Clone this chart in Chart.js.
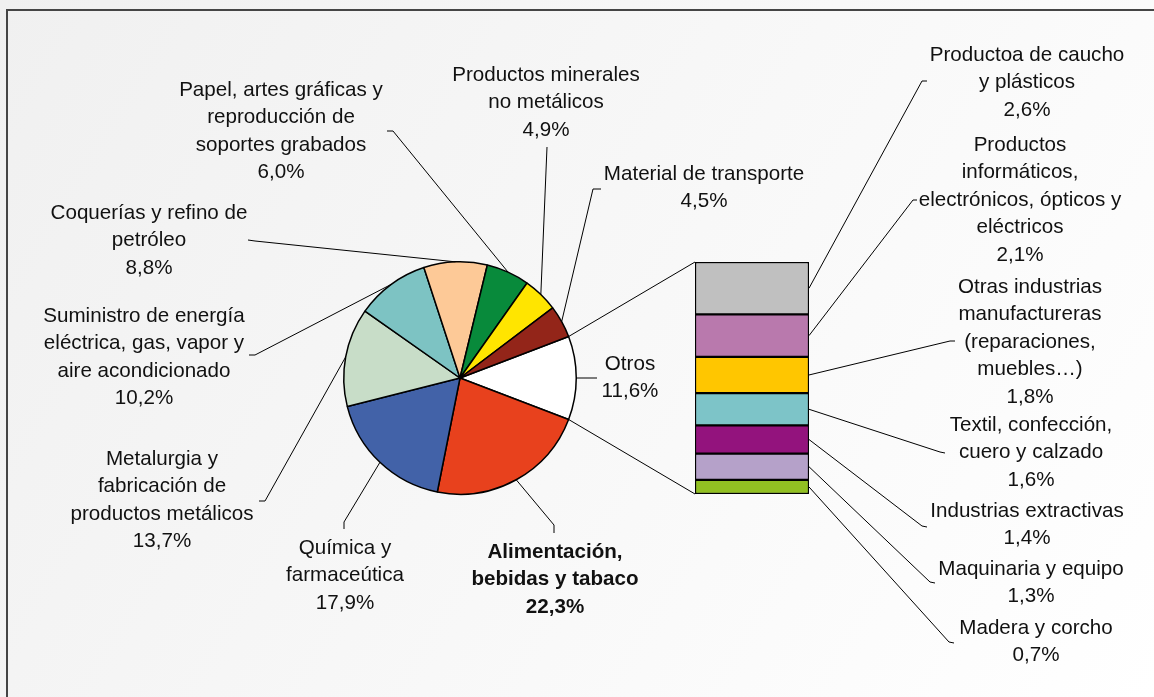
<!DOCTYPE html>
<html>
<head>
<meta charset="utf-8">
<script src="https://cdn.jsdelivr.net/npm/chart.js@4.4.0/dist/chart.umd.min.js"></script>
<style>
  body { margin: 0; background: #f4f4f4; }
  .wrap { position: relative; width: 1154px; height: 697px; }
  .wrap canvas { position: absolute; left: 0; top: 0; }
</style>
</head>
<body>
<div class="wrap">
  <canvas id="pieChart" width="1154" height="697"></canvas>
  <canvas id="barChart" width="1154" height="697"></canvas>
</div>
<script>
// Data (% of total)
const pieLabels = [
  ['Otros'],
  ['Alimentación,', 'bebidas y tabaco'],
  ['Química y', 'farmaceútica'],
  ['Metalurgia y', 'fabricación de', 'productos metálicos'],
  ['Suministro de energía', 'eléctrica, gas, vapor y', 'aire acondicionado'],
  ['Coquerías y refino de', 'petróleo'],
  ['Papel, artes gráficas y', 'reproducción de', 'soportes grabados'],
  ['Productos minerales', 'no metálicos'],
  ['Material de transporte']
];
const pieValues = [11.6, 22.3, 17.9, 13.7, 10.2, 8.8, 6.0, 4.9, 4.5];

const barLabels = [
  ['Productoa de caucho', 'y plásticos'],
  ['Productos', 'informáticos,', 'electrónicos, ópticos y', 'eléctricos'],
  ['Otras industrias', 'manufactureras', '(reparaciones,', 'muebles…)'],
  ['Textil, confección,', 'cuero y calzado'],
  ['Industrias extractivas'],
  ['Maquinaria y equipo'],
  ['Madera y corcho']
];
const barValues = [2.6, 2.1, 1.8, 1.6, 1.4, 1.3, 0.7];

// Styles
const pieColors = ['#ffffff', '#e8411d', '#4262a8', '#c8ddc8', '#7dc3c3', '#fdc997', '#088a3b', '#ffe500', '#932519'];
const barColors = ['#c0c0c0', '#b979ad', '#ffc600', '#7dc4c8', '#93137d', '#b5a1c9', '#92c022'];

// Label placement: x, y = centre of first text line, anchor/elbow = leader line end
const pieLabelLayout = [
  { x: 630, y: 364, anchor: [597, 378] },
  { x: 555, y: 552, anchor: [554, 533], elbow: [554, 525], bold: true },
  { x: 345, y: 548, anchor: [344, 529], elbow: [344, 522] },
  { x: 162, y: 459, anchor: [259, 501], elbow: [265, 501] },
  { x: 144, y: 316, anchor: [249, 355], elbow: [255, 355] },
  { x: 149, y: 213, anchor: [248, 240], elbow: [255, 241] },
  { x: 281, y: 90, anchor: [387, 131], elbow: [393, 131] },
  { x: 546, y: 75, anchor: [547, 147] },
  { x: 704, y: 174, anchor: [601, 189], elbow: [593, 189] }
];
const barLabelLayout = [
  { x: 1027, y: 55, anchor: [927, 81], elbow: [922, 81] },
  { x: 1020, y: 145, anchor: [917, 200], elbow: [913, 200] },
  { x: 1030, y: 287, anchor: [955, 341], elbow: [950, 341] },
  { x: 1031, y: 425, anchor: [945, 453], elbow: [940, 452] },
  { x: 1027, y: 511, anchor: [927, 527], elbow: [922, 526] },
  { x: 1031, y: 569, anchor: [935, 583], elbow: [930, 582] },
  { x: 1036, y: 628, anchor: [954, 643], elbow: [949, 642] }
];

const LINE_H = 27.5;
const FONT = '"Liberation Sans", Arial, sans-serif';

function fmt(v) {
  return v.toFixed(1).replace('.', ',') + '%';
}

function drawLabel(ctx, lines, value, pos) {
  ctx.save();
  ctx.font = (pos.bold ? 'bold ' : '') + '20.6px ' + FONT;
  ctx.fillStyle = '#111';
  ctx.textAlign = 'center';
  ctx.textBaseline = 'middle';
  lines.concat([fmt(value)]).forEach((t, i) => ctx.fillText(t, pos.x, pos.y + i * LINE_H));
  ctx.restore();
}

function drawLeader(ctx, from, pos) {
  ctx.save();
  ctx.strokeStyle = '#000';
  ctx.lineWidth = 1;
  ctx.beginPath();
  ctx.moveTo(from[0], from[1]);
  if (pos.elbow) ctx.lineTo(pos.elbow[0], pos.elbow[1]);
  ctx.lineTo(pos.anchor[0], pos.anchor[1]);
  ctx.stroke();
  ctx.restore();
}

// Background + frame, pie labels
const piePlugin = {
  id: 'pieDecor',
  beforeDraw(chart) {
    const ctx = chart.ctx;
    const g = ctx.createLinearGradient(0, 0, 1154, 697);
    g.addColorStop(0, '#f0f0f0');
    g.addColorStop(1, '#ffffff');
    ctx.save();
    ctx.fillStyle = g;
    ctx.fillRect(0, 0, chart.width, chart.height);
    ctx.strokeStyle = '#454545';
    ctx.lineWidth = 2;
    ctx.strokeRect(7, 10, 1180, 720);
    ctx.restore();
  },
  afterDraw(chart) {
    const ctx = chart.ctx;
    chart.getDatasetMeta(0).data.forEach((arc, i) => {
      const mid = (arc.startAngle + arc.endAngle) / 2;
      const p = [arc.x + Math.cos(mid) * arc.outerRadius, arc.y + Math.sin(mid) * arc.outerRadius];
      drawLeader(ctx, p, pieLabelLayout[i]);
      drawLabel(ctx, pieLabels[i], pieValues[i], pieLabelLayout[i]);
    });
  }
};

// Pie Chart Setup
const pieTotal = pieValues.reduce((a, b) => a + b, 0);
const pieChart = new Chart(document.getElementById('pieChart'), {
  type: 'pie',
  data: {
    labels: pieLabels.map(l => l.join(' ')),
    datasets: [{
      data: pieValues,
      backgroundColor: pieColors,
      borderColor: '#000',
      borderWidth: 1.5
    }]
  },
  options: {
    responsive: false,
    animation: false,
    rotation: 90 - (pieValues[0] / pieTotal) * 180,
    layout: { padding: { left: 343, right: 577, top: 261, bottom: 202 } },
    plugins: { legend: { display: false }, tooltip: { enabled: false } }
  },
  plugins: [piePlugin]
});

// Connectors from the "Otros" slice + bar labels
const barPlugin = {
  id: 'barDecor',
  afterDraw(chart) {
    const ctx = chart.ctx;
    const els = barValues.map((v, i) => chart.getDatasetMeta(i).data[0]);
    const top = Math.min(els[0].y, els[0].base);
    const last = els[els.length - 1];
    const bottom = Math.max(last.y, last.base);
    const left = els[0].x - els[0].width / 2;
    const right = els[0].x + els[0].width / 2;

    const otros = pieChart.getDatasetMeta(0).data[0];
    const r = otros.outerRadius;
    const p1 = [otros.x + Math.cos(otros.startAngle) * r, otros.y + Math.sin(otros.startAngle) * r];
    const p2 = [otros.x + Math.cos(otros.endAngle) * r, otros.y + Math.sin(otros.endAngle) * r];
    drawLeader(ctx, p1, { anchor: [left, top] });
    drawLeader(ctx, p2, { anchor: [left, bottom] });

    els.forEach((el, i) => {
      const midY = (el.y + el.base) / 2;
      drawLeader(ctx, [right, midY], barLabelLayout[i]);
      drawLabel(ctx, barLabels[i], barValues[i], barLabelLayout[i]);
    });
  }
};

// Stacked Bar Setup
const barTotal = barValues.reduce((a, b) => a + b, 0);
new Chart(document.getElementById('barChart'), {
  type: 'bar',
  data: {
    labels: ['Otros'],
    datasets: barValues.map((v, i) => ({
      label: barLabels[i].join(' '),
      data: [v],
      backgroundColor: barColors[i],
      borderColor: '#000',
      borderWidth: 1.5,
      borderSkipped: false,
      barPercentage: 1,
      categoryPercentage: 1
    }))
  },
  options: {
    responsive: false,
    animation: false,
    layout: { padding: { left: 695, right: 345, top: 262, bottom: 203 } },
    scales: {
      x: { stacked: true, display: false },
      y: { stacked: true, display: false, reverse: true, min: 0, max: barTotal }
    },
    plugins: { legend: { display: false }, tooltip: { enabled: false } }
  },
  plugins: [barPlugin]
});
</script>
</body>
</html>
